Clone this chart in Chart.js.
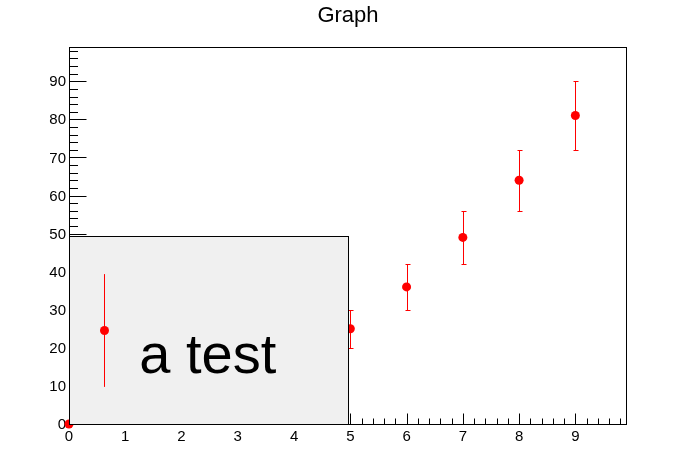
<!DOCTYPE html>
<html>
<head>
<meta charset="utf-8">
<script src="https://cdn.jsdelivr.net/npm/chart.js@4.4.0/dist/chart.umd.min.js"></script>
<style>
  html, body { margin: 0; padding: 0; background: #fff; }
  canvas { display: block; }
</style>
</head>
<body>
<canvas id="graph" width="696" height="472"></canvas>
<script>
// graph points (y = x^2) and their y errors
var xValues = [0, 1, 2, 3, 4, 5, 6, 7, 8, 9];
var yValues = [0, 1, 4, 9, 16, 25, 36, 49, 64, 81];
var yErrors = [0, 1, 2, 3, 4, 5, 6, 7, 8, 9];

var titleText = 'Graph';
var legendText = 'a test';

var FONT = '"Liberation Sans", Arial, Helvetica, sans-serif';

var points = xValues.map(function (x, i) { return { x: x, y: yValues[i] }; });

// ROOT-like frame with ticks pointing inwards
var framePlugin = {
    id: 'frame',
    beforeDatasetsDraw: function (chart) {
        var ctx = chart.ctx, a = chart.chartArea;
        var xs = chart.scales.x, ys = chart.scales.y;
        ctx.save();
        ctx.strokeStyle = '#000';
        ctx.lineWidth = 1;
        var l = Math.round(a.left) + 0.5, r = Math.round(a.right) + 0.5;
        var t = Math.round(a.top) + 0.5, b = Math.round(a.bottom) + 0.5;
        ctx.strokeRect(l, t, r - l, b - t);

        ctx.beginPath();
        // x ticks: major every 1, minor every 0.2
        for (var i = 0; i <= 49; i++) {
            var v = i * 0.2;
            if (v > xs.max) break;
            var px = Math.round(xs.getPixelForValue(v)) + 0.5;
            var len = (i % 5 === 0) ? 11 : 6;
            ctx.moveTo(px, b);
            ctx.lineTo(px, b - len);
        }
        // y ticks: major every 10, minor every 2
        for (var j = 0; j <= 49; j++) {
            var w = j * 2;
            if (w > ys.max) break;
            var py = Math.round(ys.getPixelForValue(w)) + 0.5;
            var len2 = (j % 5 === 0) ? 17 : 8.5;
            ctx.moveTo(l, py);
            ctx.lineTo(l + len2, py);
        }
        ctx.stroke();
        ctx.restore();
    },
    afterDatasetsDraw: function (chart) {
        // error bars
        var ctx = chart.ctx;
        var xs = chart.scales.x, ys = chart.scales.y;
        ctx.save();
        ctx.strokeStyle = '#ff0000';
        ctx.lineWidth = 1;
        ctx.beginPath();
        for (var i = 0; i < xValues.length; i++) {
            if (!yErrors[i]) continue;
            var px = Math.round(xs.getPixelForValue(xValues[i])) + 0.5;
            var top = Math.round(ys.getPixelForValue(yValues[i] + yErrors[i])) + 0.5;
            var bot = Math.round(ys.getPixelForValue(yValues[i] - yErrors[i])) + 0.5;
            ctx.moveTo(px, top); ctx.lineTo(px, bot);
            ctx.moveTo(px - 2, top); ctx.lineTo(px + 3, top);
            ctx.moveTo(px - 2, bot); ctx.lineTo(px + 3, bot);
        }
        ctx.stroke();
        ctx.restore();
    },
    afterDraw: function (chart) {
        var ctx = chart.ctx;
        var W = chart.width, H = chart.height;
        ctx.save();

        // legend box, NDC (0.1, 0.1) - (0.5, 0.5)
        var x1 = Math.round(0.1 * W) - 0.5, x2 = Math.round(0.5 * W) + 0.5;
        var y1 = Math.round(0.5 * H) + 0.5, y2 = Math.round(0.9 * H) - 0.5;
        ctx.fillStyle = '#f0f0f0';
        ctx.fillRect(x1, y1, x2 - x1, y2 - y1);
        ctx.strokeStyle = '#000';
        ctx.lineWidth = 1;
        ctx.strokeRect(x1, y1, x2 - x1, y2 - y1);

        var bw = x2 - x1, bh = y2 - y1;
        var mx = Math.round(x1 + bw * 0.125) + 0.5;
        var my = y1 + bh / 2;
        ctx.strokeStyle = '#ff0000';
        ctx.beginPath();
        ctx.moveTo(mx, my - bh * 0.3);
        ctx.lineTo(mx, my + bh * 0.3);
        ctx.stroke();
        ctx.fillStyle = '#ff0000';
        ctx.beginPath();
        ctx.arc(mx, my, 4.5, 0, Math.PI * 2);
        ctx.fill();

        ctx.fillStyle = '#000';
        ctx.font = '56px ' + FONT;
        ctx.textAlign = 'left';
        ctx.textBaseline = 'alphabetic';
        ctx.fillText(legendText, x1 + bw * 0.25, 373);

        // title
        ctx.font = '22px ' + FONT;
        ctx.textAlign = 'center';
        ctx.fillText(titleText, W / 2, 22);
        ctx.restore();
    }
};

new Chart(document.getElementById('graph'), {
    type: 'scatter',
    data: {
        datasets: [{
            data: points,
            backgroundColor: '#ff0000',
            borderWidth: 0,
            pointRadius: 4.5,
            pointHoverRadius: 4.5,
            clip: false
        }]
    },
    options: {
        responsive: false,
        animation: false,
        devicePixelRatio: 1,
        layout: { padding: { top: 47, right: 70, bottom: 0, left: 0 } },
        plugins: {
            legend: { display: false },
            title: { display: false },
            tooltip: { enabled: false }
        },
        scales: {
            x: {
                type: 'linear',
                min: 0,
                max: 9.9,
                grid: { display: false, drawTicks: false },
                border: { display: false },
                ticks: {
                    stepSize: 1,
                    includeBounds: false,
                    maxRotation: 0,
                    autoSkip: false,
                    padding: 4,
                    color: '#000',
                    font: { family: FONT, size: 15 }
                },
                afterFit: function (s) { s.height = 48; }
            },
            y: {
                type: 'linear',
                min: 0,
                max: 99,
                grid: { display: false, drawTicks: false },
                border: { display: false },
                ticks: {
                    stepSize: 10,
                    includeBounds: false,
                    autoSkip: false,
                    padding: 3,
                    labelOffset: 1,
                    color: '#000',
                    font: { family: FONT, size: 15 }
                },
                afterFit: function (s) { s.width = 69; }
            }
        }
    },
    plugins: [framePlugin]
});
</script>
</body>
</html>
